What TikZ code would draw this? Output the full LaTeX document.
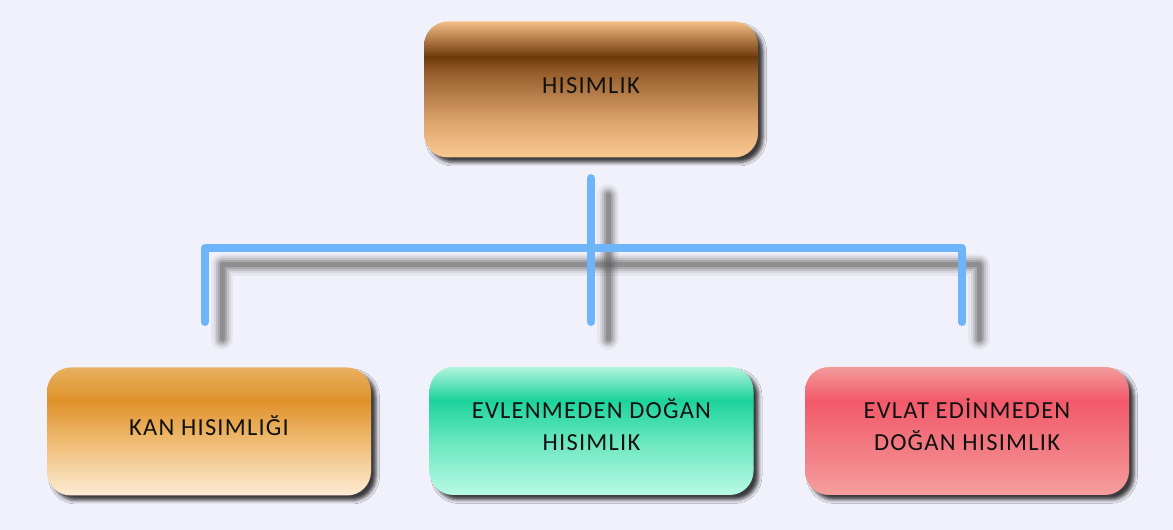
\documentclass[tikz,border=0pt]{standalone}
\usepackage{fontspec}
\setmainfont{Carlito}
\usetikzlibrary{shadows.blur,calc}
\definecolor{bg}{HTML}{F1F1FB}
\definecolor{conn}{HTML}{6DB5F8}
\definecolor{txt}{HTML}{111111}
\newcommand\tstrut{\rule{0pt}{21pt}}
\newcommand\bstrut{\rule[-13.5pt]{0pt}{0pt}}
\pgfdeclareverticalshading{brownsh}{100bp}{color(0bp)=({rgb,255:red,250;green,200;blue,146}); color(25bp)=({rgb,255:red,250;green,200;blue,146}); color(38bp)=({rgb,255:red,222;green,165;blue,110}); color(56bp)=({rgb,255:red,150;green,95;blue,45}); color(62bp)=({rgb,255:red,110;green,58;blue,10}); color(75bp)=({rgb,255:red,245;green,190;blue,135}); color(100bp)=({rgb,255:red,245;green,190;blue,135})}
\pgfdeclareverticalshading{orangesh}{100bp}{color(0bp)=({rgb,255:red,252;green,236;blue,212}); color(25bp)=({rgb,255:red,252;green,236;blue,212}); color(45bp)=({rgb,255:red,240;green,190;blue,120}); color(62bp)=({rgb,255:red,224;green,146;blue,42}); color(75bp)=({rgb,255:red,232;green,176;blue,96}); color(100bp)=({rgb,255:red,232;green,176;blue,96})}
\pgfdeclareverticalshading{greensh}{100bp}{color(0bp)=({rgb,255:red,184;green,250;blue,228}); color(25bp)=({rgb,255:red,184;green,250;blue,228}); color(45bp)=({rgb,255:red,110;green,232;blue,192}); color(62bp)=({rgb,255:red,28;green,211;blue,156}); color(75bp)=({rgb,255:red,178;green,244;blue,220}); color(100bp)=({rgb,255:red,178;green,244;blue,220})}
\pgfdeclareverticalshading{redsh}{100bp}{color(0bp)=({rgb,255:red,245;green,158;blue,158}); color(25bp)=({rgb,255:red,245;green,158;blue,158}); color(45bp)=({rgb,255:red,242;green,120;blue,128}); color(62bp)=({rgb,255:red,242;green,89;blue,106}); color(75bp)=({rgb,255:red,242;green,156;blue,156}); color(100bp)=({rgb,255:red,242;green,156;blue,156})}
\tikzset{
  box/.style={rounded corners=24pt, minimum width=324pt, minimum height=128pt,
    align=center, text=txt, inner sep=0pt,
    font=\fontsize{24.5}{32}\selectfont\addfontfeatures{LetterSpace=5},
    blur shadow={shadow xshift=5pt, shadow yshift=-5pt, shadow blur radius=3.5pt, shadow opacity=75}},
  conn/.style={draw=conn, line width=8pt, line cap=round, line join=round},
  connsh/.style={draw=#1, line cap=round, line join=round,
    transform canvas={shift={(17pt,-17pt)}}},
}
\begin{document}
\begin{tikzpicture}[x=1pt,y=1pt]
\fill[bg] (0,0) rectangle (1173,530);
\useasboundingbox (0,0) rectangle (1173,530);
% nodes
\node[box, shading=brownsh, minimum width=334pt, minimum height=136pt] (top) at (591,440.5) {\tstrut HISIMLIK\bstrut};
\node[box, shading=orangesh] (kan) at (209,98.5) {\tstrut KAN HISIMLIĞI\bstrut};
\node[box, shading=greensh] (evl) at (591.5,99) {\tstrut EVLENMEDEN DOĞAN\\HISIMLIK\bstrut};
\node[box, shading=redsh] (evt) at (967,99) {\tstrut EVLAT EDİNMEDEN\\DOĞAN HISIMLIK\bstrut};
% connector points
\coordinate (ts) at ($(top.south)+(0,-20.5)$);
\coordinate (jm) at (591,282);
\coordinate (cl) at (205,208);
\coordinate (cm) at (591,208);
\coordinate (cr) at (962,208);
% connector shadows
\foreach \w/\o in {22/0.07, 17/0.11, 13/0.17, 9/0.24, 5/0.3}{
  \draw[connsh=black!65, line width=\w pt, draw opacity=\o] (cl) |- (jm) -| (cr);
  \draw[connsh=black!65, line width=\w pt, draw opacity=\o] (ts) -- (cm);
}
% connectors
\draw[conn] (cl) |- (jm) -| (cr);
\draw[conn] (ts) -- (cm);
\end{tikzpicture}
\end{document}
